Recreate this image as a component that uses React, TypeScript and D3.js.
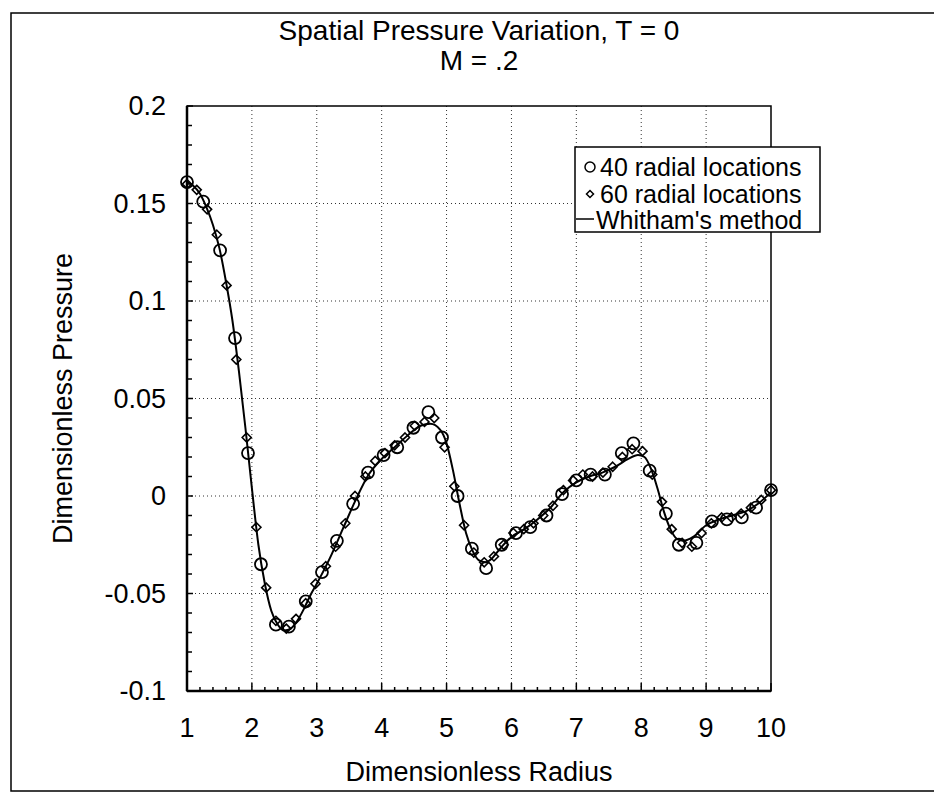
import React from "react";
import * as d3 from "d3";

const xTickLabels = [1, 2, 3, 4, 5, 6, 7, 8, 9, 10];
const yTickLabels = [0.2, 0.15, 0.1, 0.05, 0, -0.05, -0.1];
const yTickText = ["0.2", "0.15", "0.1", "0.05", "0", "-0.05", "-0.1"];

// 40 radial locations (circles)
const circX = [1.0, 1.25, 1.51, 1.74, 1.94, 2.14, 2.37, 2.57, 2.83, 3.08, 3.31, 3.56, 3.79, 4.03, 4.24, 4.49, 4.72, 4.93, 5.17, 5.39, 5.61, 5.85, 6.07, 6.29, 6.54, 6.78, 7.0, 7.22, 7.44, 7.7, 7.88, 8.13, 8.38, 8.58, 8.85, 9.09, 9.32, 9.55, 9.77, 10.0];
const circY = [0.161, 0.151, 0.126, 0.081, 0.022, -0.035, -0.066, -0.067, -0.054, -0.039, -0.023, -0.004, 0.012, 0.021, 0.025, 0.035, 0.043, 0.03, 0.0, -0.027, -0.037, -0.025, -0.019, -0.016, -0.01, 0.001, 0.008, 0.011, 0.011, 0.022, 0.027, 0.013, -0.009, -0.025, -0.024, -0.013, -0.012, -0.011, -0.006, 0.003];

// 60 radial locations (diamonds)
const diamX = [1.0, 1.15, 1.31, 1.46, 1.61, 1.76, 1.92, 2.07, 2.22, 2.37, 2.53, 2.68, 2.83, 2.98, 3.14, 3.29, 3.44, 3.59, 3.75, 3.9, 4.05, 4.2, 4.36, 4.51, 4.66, 4.81, 4.97, 5.12, 5.27, 5.42, 5.58, 5.73, 5.88, 6.03, 6.19, 6.34, 6.49, 6.64, 6.8, 6.95, 7.1, 7.25, 7.41, 7.56, 7.71, 7.86, 8.02, 8.17, 8.32, 8.47, 8.63, 8.78, 8.93, 9.08, 9.24, 9.39, 9.54, 9.69, 9.85, 10.0];
const diamY = [0.16, 0.157, 0.147, 0.134, 0.108, 0.07, 0.03, -0.016, -0.047, -0.064, -0.068, -0.063, -0.055, -0.045, -0.036, -0.026, -0.014, 0.0, 0.01, 0.018, 0.022, 0.026, 0.03, 0.036, 0.038, 0.04, 0.025, 0.005, -0.015, -0.029, -0.034, -0.031, -0.025, -0.019, -0.017, -0.014, -0.01, -0.005, 0.003, 0.008, 0.011, 0.01, 0.012, 0.015, 0.02, 0.024, 0.023, 0.011, -0.003, -0.017, -0.024, -0.026, -0.019, -0.014, -0.011, -0.011, -0.009, -0.006, -0.002, 0.003];

// Whitham's method (solid line)
const lineX = [1.0, 1.1, 1.2, 1.3, 1.4, 1.5, 1.6, 1.7, 1.8, 1.9, 2.0, 2.1, 2.2, 2.3, 2.4, 2.5, 2.6, 2.7, 2.8, 2.9, 3.0, 3.2, 3.4, 3.6, 3.8, 4.0, 4.2, 4.4, 4.6, 4.75, 4.9, 5.0, 5.1, 5.2, 5.3, 5.4, 5.5, 5.6, 5.7, 5.8, 6.0, 6.2, 6.4, 6.6, 6.8, 7.0, 7.2, 7.4, 7.6, 7.8, 7.95, 8.05, 8.15, 8.25, 8.35, 8.45, 8.55, 8.65, 8.8, 9.0, 9.2, 9.4, 9.6, 9.8, 10.0];
const lineY = [0.161, 0.159, 0.155, 0.148, 0.139, 0.127, 0.11, 0.09, 0.064, 0.035, 0.004, -0.025, -0.045, -0.059, -0.066, -0.069, -0.068, -0.064, -0.058, -0.051, -0.045, -0.032, -0.017, -0.002, 0.011, 0.019, 0.025, 0.031, 0.036, 0.037, 0.034, 0.027, 0.013, -0.004, -0.019, -0.028, -0.033, -0.034, -0.032, -0.028, -0.021, -0.017, -0.012, -0.006, 0.002, 0.007, 0.01, 0.012, 0.015, 0.019, 0.021, 0.02, 0.014, 0.004, -0.008, -0.017, -0.022, -0.023, -0.021, -0.015, -0.012, -0.01, -0.008, -0.004, 0.002];

const legendItems = ["40 radial locations", "60 radial locations", "Whitham's method"];

const FONT = "'Liberation Sans', Arial, Helvetica, sans-serif";

export default function App() {
  const W = 934, H = 795;
  const x = d3.scaleLinear().domain([1, 10]).range([187, 771]);
  const y = d3.scaleLinear().domain([-0.1, 0.2]).range([691, 106]);
  const [x0, x1] = x.range();
  const [yb, yt] = y.range();

  const line = d3.line<number>()
    .x((_, i) => x(lineX[i]))
    .y((d) => y(d))
    .curve(d3.curveMonotoneX);

  const xMinor = d3.range(0, 46).map((i) => 1 + i * 0.2);
  const yMinor = d3.range(0, 31).map((i) => -0.1 + i * 0.01);
  const xGrid = xTickLabels.slice(1, -1);
  const yGrid = yTickLabels.slice(1, -1);

  const diamond = (cx: number, cy: number, r: number) =>
    `M${cx},${cy - r}L${cx + r},${cy}L${cx},${cy + r}L${cx - r},${cy}Z`;

  const lg = { x: 575, y: 147, w: 245, h: 85 };
  const cx = (x0 + x1) / 2;

  return (
    <svg width={W} height={H} style={{ position: "absolute", left: 0, top: 0, background: "#fff" }} fontFamily={FONT}>
      <rect x={0} y={0} width={W} height={H} fill="#fff" />
      {/* outer frame */}
      <path d={`M${W},13H11V791H${W}`} fill="none" stroke="#000" strokeWidth={1.5} />

      {/* title */}
      <text x={cx} y={40} textAnchor="middle" fontSize={28}>Spatial Pressure Variation, T = 0</text>
      <text x={cx} y={70} textAnchor="middle" fontSize={28}>M = .2</text>

      {/* grid */}
      {xGrid.map((v) => (
        <line key={"gx" + v} x1={x(v)} x2={x(v)} y1={yt} y2={yb} stroke="#333" strokeWidth={1} strokeDasharray="1 3" />
      ))}
      {yGrid.map((v) => (
        <line key={"gy" + v} x1={x0} x2={x1} y1={y(v)} y2={y(v)} stroke="#333" strokeWidth={1} strokeDasharray="1 3" />
      ))}

      {/* ticks */}
      {xMinor.map((v, i) => (
        <line key={"xt" + i} x1={x(v)} x2={x(v)} y1={yb} y2={yb - (i % 5 === 0 ? 8 : 4)} stroke="#000" strokeWidth={1.5} />
      ))}
      {yMinor.map((v, i) => (
        <line key={"yt" + i} x1={x0} x2={x0 + (i % 5 === 0 ? 6 : 5)} y1={y(v)} y2={y(v)} stroke="#000" strokeWidth={1.5} />
      ))}

      {/* plot box */}
      <rect x={x0} y={yt} width={x1 - x0} height={yb - yt} fill="none" stroke="#000" strokeWidth={1.5} />
      <line x1={x0} x2={x0} y1={yt} y2={yb} stroke="#000" strokeWidth={2.5} />
      <line x1={x0} x2={x1} y1={yb} y2={yb} stroke="#000" strokeWidth={2.5} />

      {/* tick labels */}
      {xTickLabels.map((v) => (
        <text key={"xl" + v} x={x(v)} y={737} textAnchor="middle" fontSize={27}>{v}</text>
      ))}
      {yTickLabels.map((v, i) => (
        <text key={"yl" + v} x={166} y={y(v) + 9} textAnchor="end" fontSize={27}>{yTickText[i]}</text>
      ))}

      {/* axis titles */}
      <text x={cx} y={781} textAnchor="middle" fontSize={27}>Dimensionless Radius</text>
      <text transform={`translate(72,${(yt + yb) / 2}) rotate(-90)`} textAnchor="middle" fontSize={27}>Dimensionless Pressure</text>

      {/* Whitham line */}
      <path d={line(lineY) || ""} fill="none" stroke="#000" strokeWidth={2} />

      {/* markers */}
      {diamY.map((v, i) => (
        <path key={"d" + i} d={diamond(x(diamX[i]), y(v), 4.5)} fill="none" stroke="#000" strokeWidth={1.6} />
      ))}
      {circY.map((v, i) => (
        <circle key={"c" + i} cx={x(circX[i])} cy={y(v)} r={6} fill="none" stroke="#000" strokeWidth={1.8} />
      ))}

      {/* legend */}
      <rect x={lg.x} y={lg.y} width={lg.w} height={lg.h} fill="#fff" stroke="#000" strokeWidth={1.5} />
      <circle cx={590} cy={167} r={5} fill="none" stroke="#000" strokeWidth={1.5} />
      <path d={diamond(590, 194, 3.5)} fill="none" stroke="#000" strokeWidth={1.5} />
      <line x1={576} x2={594} y1={219} y2={219} stroke="#000" strokeWidth={1.5} />
      {legendItems.map((t, i) => (
        <text key={t} x={i === 2 ? 596 : 600} y={176 + i * 26.5} fontSize={25}>{t}</text>
      ))}
    </svg>
  );
}
